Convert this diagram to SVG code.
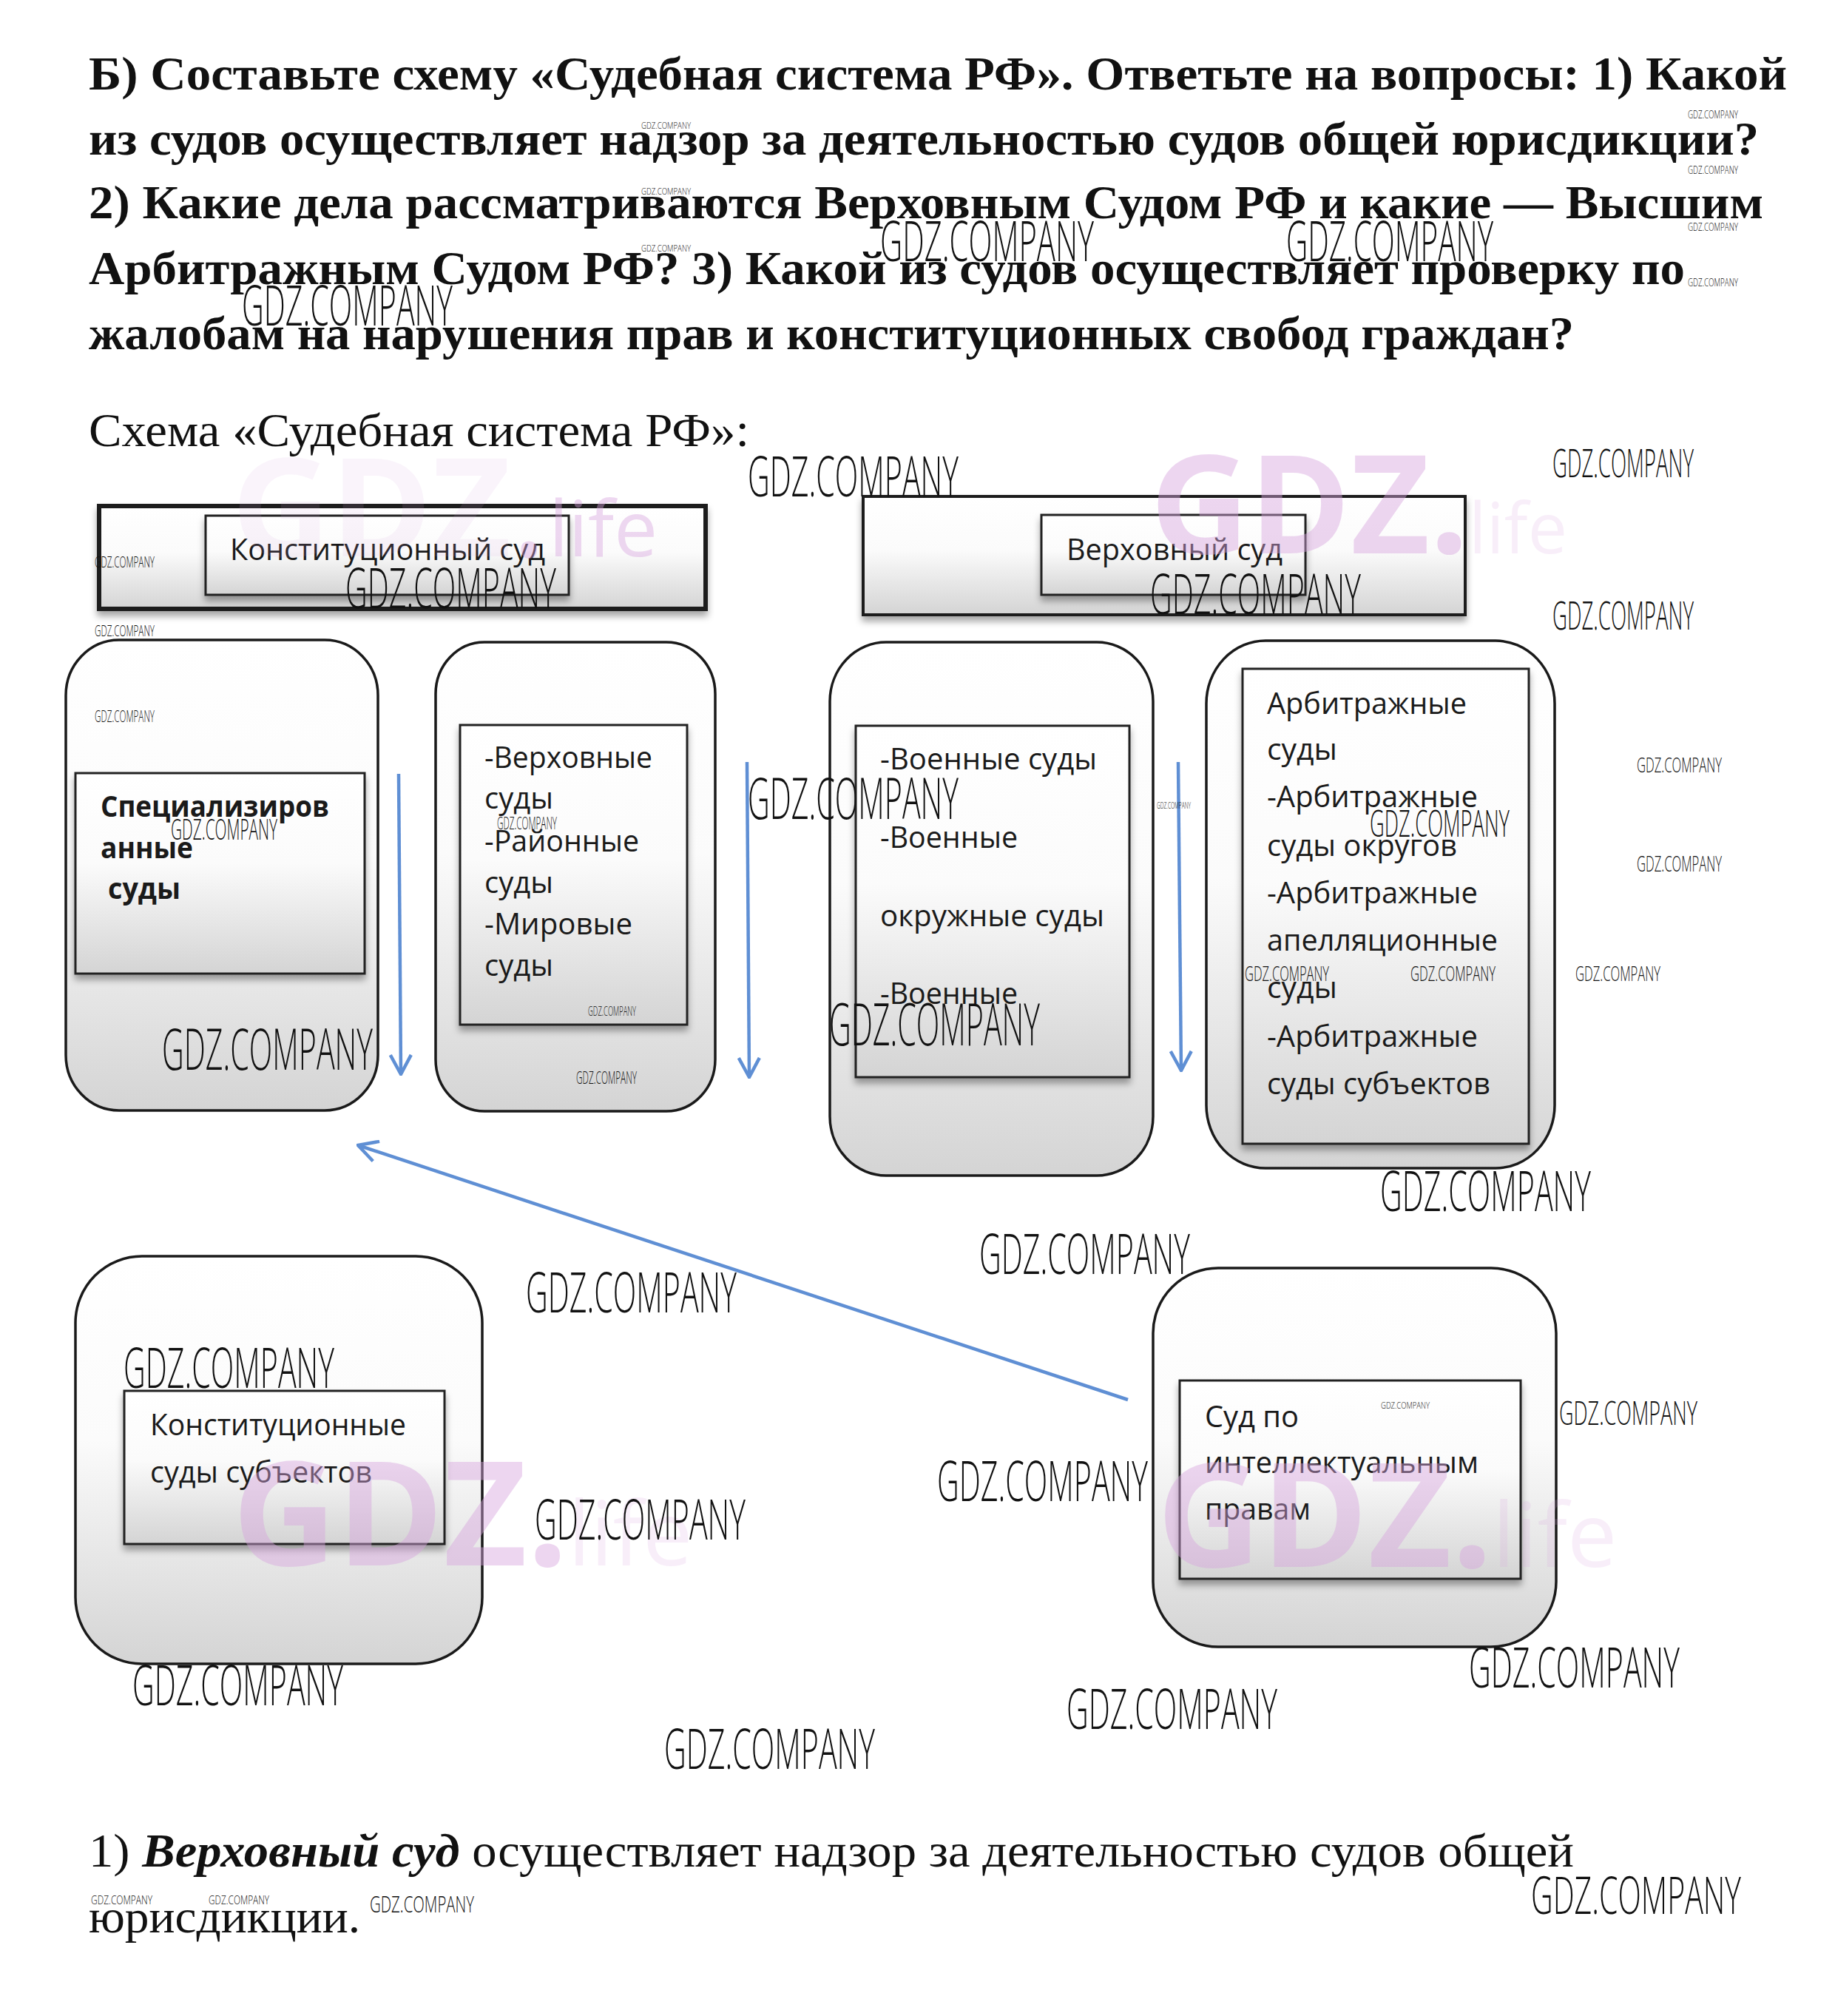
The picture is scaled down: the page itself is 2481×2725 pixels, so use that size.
<svg xmlns="http://www.w3.org/2000/svg" width="2481" height="2725" viewBox="0 0 2481 2725">
<style>
.ttl{font-family:"Liberation Serif","Times New Roman",serif;font-size:64px;fill:#111}
.b{font-weight:bold}
.lbl{font-family:"Open Sans","Noto Sans",sans-serif;font-size:40px;fill:#1a1a1a}
.box{fill:url(#g);stroke:#1a1a1a;stroke-width:3.5}
.inner{fill:url(#g);stroke:#222;stroke-width:3;filter:url(#sh)}
.con{fill:none;stroke:#5f8fd4;stroke-width:4.5;marker-end:url(#ah)}
.wm{font-family:"Open Sans","Liberation Sans",sans-serif;font-weight:300;fill:#111}
.pk1{font-family:"Open Sans","Liberation Sans",sans-serif;font-weight:700;fill:#d7a3de;fill-opacity:0.45}
.pk2{font-family:"Open Sans","Liberation Sans",sans-serif;font-weight:400;fill:#d7a3de;fill-opacity:0.18}
.pk3{font-family:"Open Sans","Liberation Sans",sans-serif;font-weight:700;fill:#d7a3de;fill-opacity:0.12}
.pk4{font-family:"Open Sans","Liberation Sans",sans-serif;font-weight:400;fill:#d7a3de;fill-opacity:0.42}
</style>
<defs>
<linearGradient id="g" x1="0" y1="0" x2="0" y2="1">
<stop offset="0" stop-color="#ffffff"/>
<stop offset="0.45" stop-color="#fbfbfb"/>
<stop offset="1" stop-color="#d4d4d4"/>
</linearGradient>
<filter id="sh" x="-10%" y="-10%" width="125%" height="130%">
<feDropShadow dx="0" dy="7" stdDeviation="5" flood-color="#000" flood-opacity="0.35"/>
</filter>
<marker id="ah" viewBox="0 0 30 32" refX="28" refY="16" markerWidth="30" markerHeight="32" markerUnits="userSpaceOnUse" orient="auto">
<path d="M2,2 L28,16 L2,30" fill="none" stroke="#5f8fd4" stroke-width="4.5"/>
</marker>
</defs>
<rect width="2481" height="2725" fill="#ffffff"/>

<g id="question">
<text class="ttl b" x="120" y="121" textLength="2296" lengthAdjust="spacingAndGlyphs">Б) Составьте схему «Судебная система РФ». Ответьте на вопросы: 1) Какой</text>
<text class="ttl b" x="120" y="209" textLength="2258" lengthAdjust="spacingAndGlyphs">из судов осуществляет надзор за деятельностью судов общей юрисдикции?</text>
<text class="ttl b" x="120" y="295" textLength="2264" lengthAdjust="spacingAndGlyphs">2) Какие дела рассматриваются Верховным Судом РФ и какие — Высшим</text>
<text class="ttl b" x="120" y="384" textLength="2158" lengthAdjust="spacingAndGlyphs">Арбитражным Судом РФ? 3) Какой из судов осуществляет проверку по</text>
<text class="ttl b" x="120" y="472" textLength="2008" lengthAdjust="spacingAndGlyphs">жалобам на нарушения прав и конституционных свобод граждан?</text>
<text class="ttl" x="120" y="603" textLength="893" lengthAdjust="spacingAndGlyphs">Схема «Судебная система РФ»:</text>
</g>

<g id="node-konst-court">
<rect x="134" y="684" width="820" height="139" fill="url(#g)" stroke="#1a1a1a" stroke-width="6" filter="url(#sh)"/>
<rect class="inner" x="278" y="697" width="491" height="107"/>
<text class="lbl" x="311" y="757" textLength="426" lengthAdjust="spacingAndGlyphs">Конституционный суд</text>
</g>

<g id="node-verkh-court">
<rect x="1167" y="671" width="814" height="160" fill="url(#g)" stroke="#1a1a1a" stroke-width="4" filter="url(#sh)"/>
<rect class="inner" x="1408" y="696" width="357" height="108"/>
<text class="lbl" x="1442" y="757" textLength="292" lengthAdjust="spacingAndGlyphs">Верховный суд</text>
</g>

<g id="node-spec">
<rect class="box" x="89" y="865" width="422" height="636" rx="72" ry="75"/>
<rect class="inner" x="102" y="1045" width="391" height="271"/>
<text class="lbl b" x="136" y="1104" textLength="309" lengthAdjust="spacingAndGlyphs">Специализиров</text>
<text class="lbl b" x="136" y="1160" textLength="125" lengthAdjust="spacingAndGlyphs">анные</text>
<text class="lbl b" x="146" y="1215" textLength="98" lengthAdjust="spacingAndGlyphs">суды</text>
</g>

<g id="node-general">
<rect class="box" x="589" y="868" width="378" height="634" rx="66" ry="70"/>
<rect class="inner" x="622" y="980" width="307" height="405"/>
<text class="lbl" x="655" y="1038" textLength="227" lengthAdjust="spacingAndGlyphs">-Верховные</text>
<text class="lbl" x="655" y="1093" textLength="93" lengthAdjust="spacingAndGlyphs">суды</text>
<text class="lbl" x="655" y="1151" textLength="209" lengthAdjust="spacingAndGlyphs">-Районные</text>
<text class="lbl" x="655" y="1207" textLength="93" lengthAdjust="spacingAndGlyphs">суды</text>
<text class="lbl" x="655" y="1263" textLength="200" lengthAdjust="spacingAndGlyphs">-Мировые</text>
<text class="lbl" x="655" y="1319" textLength="93" lengthAdjust="spacingAndGlyphs">суды</text>
</g>

<g id="node-military">
<rect class="box" x="1122" y="868" width="437" height="721" rx="76" ry="80"/>
<rect class="inner" x="1157" y="981" width="370" height="475"/>
<text class="lbl" x="1190" y="1040" textLength="293" lengthAdjust="spacingAndGlyphs">-Военные суды</text>
<text class="lbl" x="1190" y="1146" textLength="186" lengthAdjust="spacingAndGlyphs">-Военные</text>
<text class="lbl" x="1190" y="1252" textLength="303" lengthAdjust="spacingAndGlyphs">окружные суды</text>
<text class="lbl" x="1190" y="1357" textLength="186" lengthAdjust="spacingAndGlyphs">-Военные</text>
</g>

<g id="node-arbitr">
<rect class="box" x="1631" y="866" width="471" height="713" rx="80" ry="85"/>
<rect class="inner" x="1680" y="904" width="387" height="642"/>
<text class="lbl" x="1713" y="965" textLength="270" lengthAdjust="spacingAndGlyphs">Арбитражные</text>
<text class="lbl" x="1713" y="1027" textLength="95" lengthAdjust="spacingAndGlyphs">суды</text>
<text class="lbl" x="1713" y="1091" textLength="285" lengthAdjust="spacingAndGlyphs">-Арбитражные</text>
<text class="lbl" x="1713" y="1157" textLength="257" lengthAdjust="spacingAndGlyphs">суды округов</text>
<text class="lbl" x="1713" y="1221" textLength="285" lengthAdjust="spacingAndGlyphs">-Арбитражные</text>
<text class="lbl" x="1713" y="1285" textLength="312" lengthAdjust="spacingAndGlyphs">апелляционные</text>
<text class="lbl" x="1713" y="1349" textLength="95" lengthAdjust="spacingAndGlyphs">суды</text>
<text class="lbl" x="1713" y="1415" textLength="285" lengthAdjust="spacingAndGlyphs">-Арбитражные</text>
<text class="lbl" x="1713" y="1479" textLength="302" lengthAdjust="spacingAndGlyphs">суды субъектов</text>
</g>

<g id="node-konst-subj">
<rect class="box" x="102" y="1698" width="550" height="551" rx="90" ry="90"/>
<rect class="inner" x="168" y="1880" width="433" height="207"/>
<text class="lbl" x="203" y="1940" textLength="346" lengthAdjust="spacingAndGlyphs">Конституционные</text>
<text class="lbl" x="203" y="2004" textLength="300" lengthAdjust="spacingAndGlyphs">суды субъектов</text>
</g>

<g id="node-ip">
<rect class="box" x="1559" y="1714" width="545" height="512" rx="88" ry="88"/>
<rect class="inner" x="1595" y="1866" width="461" height="268"/>
<text class="lbl" x="1629" y="1929" textLength="127" lengthAdjust="spacingAndGlyphs">Суд по</text>
<text class="lbl" x="1629" y="1991" textLength="370" lengthAdjust="spacingAndGlyphs">интеллектуальным</text>
<text class="lbl" x="1629" y="2054" textLength="143" lengthAdjust="spacingAndGlyphs">правам</text>
</g>

<g id="connectors">
<path class="con" d="M539,1046 L542,1452"/>
<path class="con" d="M1010,1030 L1013,1456"/>
<path class="con" d="M1593,1030 L1597,1447"/>
<path class="con" d="M1525,1892 L484,1548"/>
</g>

<g id="answer">
<text class="ttl" x="120" y="2523" textLength="2008" lengthAdjust="spacingAndGlyphs">1) <tspan font-weight="bold" font-style="italic">Верховный суд</tspan> осуществляет надзор за деятельностью судов общей</text>
<text class="ttl" x="120" y="2612" textLength="367" lengthAdjust="spacingAndGlyphs">юрисдикции.</text>
</g>

<g id="watermarks-pink">
<text x="313" y="752" font-size="185"><tspan class="pk3">GDZ</tspan><tspan class="pk4">.</tspan><tspan class="pk4" x="742" font-size="105">life</tspan></text>
<text x="1555" y="748" font-size="185"><tspan class="pk1">GDZ.</tspan><tspan class="pk2" font-size="95">life</tspan></text>
<text x="314" y="2116" font-size="195"><tspan class="pk1">GDZ.</tspan><tspan class="pk2" font-size="120">life</tspan></text>
<text x="1564" y="2118" font-size="195"><tspan class="pk1">GDZ.</tspan><tspan class="pk2" font-size="120">life</tspan></text>
</g>

<g id="watermarks">
<text class="wm" x="1190" y="353" font-size="76" textLength="289" lengthAdjust="spacingAndGlyphs">GDZ.COMPANY</text>
<text class="wm" x="1739" y="353" font-size="76" textLength="280" lengthAdjust="spacingAndGlyphs">GDZ.COMPANY</text>
<text class="wm" x="327" y="440" font-size="76" textLength="285" lengthAdjust="spacingAndGlyphs">GDZ.COMPANY</text>
<text class="wm" x="1011" y="671" font-size="76" textLength="285" lengthAdjust="spacingAndGlyphs">GDZ.COMPANY</text>
<text class="wm" x="467" y="822" font-size="76" textLength="285" lengthAdjust="spacingAndGlyphs">GDZ.COMPANY</text>
<text class="wm" x="1555" y="830" font-size="76" textLength="285" lengthAdjust="spacingAndGlyphs">GDZ.COMPANY</text>
<text class="wm" x="1011" y="1107" font-size="78" textLength="285" lengthAdjust="spacingAndGlyphs">GDZ.COMPANY</text>
<text class="wm" x="219" y="1446" font-size="78" textLength="285" lengthAdjust="spacingAndGlyphs">GDZ.COMPANY</text>
<text class="wm" x="1121" y="1413" font-size="80" textLength="285" lengthAdjust="spacingAndGlyphs">GDZ.COMPANY</text>
<text class="wm" x="1866" y="1637" font-size="76" textLength="285" lengthAdjust="spacingAndGlyphs">GDZ.COMPANY</text>
<text class="wm" x="1324" y="1722" font-size="76" textLength="285" lengthAdjust="spacingAndGlyphs">GDZ.COMPANY</text>
<text class="wm" x="711" y="1774" font-size="76" textLength="285" lengthAdjust="spacingAndGlyphs">GDZ.COMPANY</text>
<text class="wm" x="167" y="1876" font-size="76" textLength="285" lengthAdjust="spacingAndGlyphs">GDZ.COMPANY</text>
<text class="wm" x="1267" y="2029" font-size="76" textLength="285" lengthAdjust="spacingAndGlyphs">GDZ.COMPANY</text>
<text class="wm" x="723" y="2081" font-size="76" textLength="285" lengthAdjust="spacingAndGlyphs">GDZ.COMPANY</text>
<text class="wm" x="179" y="2305" font-size="76" textLength="285" lengthAdjust="spacingAndGlyphs">GDZ.COMPANY</text>
<text class="wm" x="1986" y="2281" font-size="76" textLength="285" lengthAdjust="spacingAndGlyphs">GDZ.COMPANY</text>
<text class="wm" x="1442" y="2337" font-size="76" textLength="285" lengthAdjust="spacingAndGlyphs">GDZ.COMPANY</text>
<text class="wm" x="898" y="2391" font-size="76" textLength="285" lengthAdjust="spacingAndGlyphs">GDZ.COMPANY</text>
<text class="wm" x="2070" y="2587" font-size="70" textLength="284" lengthAdjust="spacingAndGlyphs">GDZ.COMPANY</text>
<text class="wm" x="2099" y="645" font-size="54" textLength="191" lengthAdjust="spacingAndGlyphs">GDZ.COMPANY</text>
<text class="wm" x="2099" y="851" font-size="53" textLength="191" lengthAdjust="spacingAndGlyphs">GDZ.COMPANY</text>
<text class="wm" x="1852" y="1131" font-size="50" textLength="189" lengthAdjust="spacingAndGlyphs">GDZ.COMPANY</text>
<text class="wm" x="2108" y="1926" font-size="44" textLength="187" lengthAdjust="spacingAndGlyphs">GDZ.COMPANY</text>
<text class="wm" x="231" y="1135" font-size="38" textLength="144" lengthAdjust="spacingAndGlyphs">GDZ.COMPANY</text>
<text class="wm" x="500" y="2585" font-size="32" textLength="141" lengthAdjust="spacingAndGlyphs">GDZ.COMPANY</text>
<text class="wm" x="2213" y="1044" font-size="27" textLength="115" lengthAdjust="spacingAndGlyphs">GDZ.COMPANY</text>
<text class="wm" x="2213" y="1178" font-size="29" textLength="115" lengthAdjust="spacingAndGlyphs">GDZ.COMPANY</text>
<text class="wm" x="2130" y="1326" font-size="28" textLength="115" lengthAdjust="spacingAndGlyphs">GDZ.COMPANY</text>
<text class="wm" x="1683" y="1326" font-size="28" textLength="114" lengthAdjust="spacingAndGlyphs">GDZ.COMPANY</text>
<text class="wm" x="1907" y="1326" font-size="28" textLength="115" lengthAdjust="spacingAndGlyphs">GDZ.COMPANY</text>
<text class="wm" x="128" y="767" font-size="20" textLength="81" lengthAdjust="spacingAndGlyphs">GDZ.COMPANY</text>
<text class="wm" x="128" y="860" font-size="21" textLength="81" lengthAdjust="spacingAndGlyphs">GDZ.COMPANY</text>
<text class="wm" x="128" y="976" font-size="22" textLength="81" lengthAdjust="spacingAndGlyphs">GDZ.COMPANY</text>
<text class="wm" x="672" y="1121" font-size="24" textLength="81" lengthAdjust="spacingAndGlyphs">GDZ.COMPANY</text>
<text class="wm" x="795" y="1373" font-size="18" textLength="65" lengthAdjust="spacingAndGlyphs">GDZ.COMPANY</text>
<text class="wm" x="779" y="1465" font-size="24" textLength="82" lengthAdjust="spacingAndGlyphs">GDZ.COMPANY</text>
<text class="wm" x="1564" y="1093" font-size="13" textLength="46" lengthAdjust="spacingAndGlyphs">GDZ.COMPANY</text>
<text class="wm" x="1867" y="1904" font-size="13" textLength="66" lengthAdjust="spacingAndGlyphs">GDZ.COMPANY</text>
<text class="wm" x="867" y="174" font-size="13" textLength="67" lengthAdjust="spacingAndGlyphs">GDZ.COMPANY</text>
<text class="wm" x="867" y="263" font-size="13" textLength="67" lengthAdjust="spacingAndGlyphs">GDZ.COMPANY</text>
<text class="wm" x="867" y="340" font-size="13" textLength="67" lengthAdjust="spacingAndGlyphs">GDZ.COMPANY</text>
<text class="wm" x="2282" y="160" font-size="14" textLength="68" lengthAdjust="spacingAndGlyphs">GDZ.COMPANY</text>
<text class="wm" x="2282" y="235" font-size="14" textLength="68" lengthAdjust="spacingAndGlyphs">GDZ.COMPANY</text>
<text class="wm" x="2282" y="312" font-size="14" textLength="68" lengthAdjust="spacingAndGlyphs">GDZ.COMPANY</text>
<text class="wm" x="2282" y="387" font-size="14" textLength="68" lengthAdjust="spacingAndGlyphs">GDZ.COMPANY</text>
<text class="wm" x="123" y="2574" font-size="17" textLength="83" lengthAdjust="spacingAndGlyphs">GDZ.COMPANY</text>
<text class="wm" x="282" y="2574" font-size="17" textLength="82" lengthAdjust="spacingAndGlyphs">GDZ.COMPANY</text>
</g>
</svg>
